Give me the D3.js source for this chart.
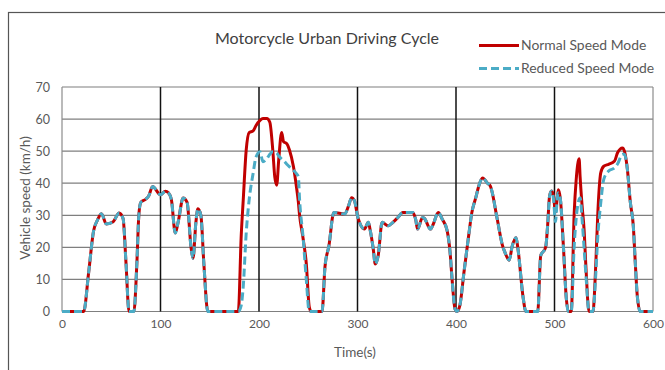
<!DOCTYPE html>
<html>
<head>
<meta charset="utf-8">
<script src="https://cdn.jsdelivr.net/npm/d3@7"></script>
<style>
  body { margin: 0; background: #fff; }
  text { font-family: Lato, "Open Sans", sans-serif; }
</style>
</head>
<body>
<div id="chart"></div>
<script>
// Time samples (s) and speeds (km/h)
const times = [0, 22, 27, 32, 36, 40, 45, 52, 58, 62, 65, 68, 73, 76, 78, 80, 85, 88, 92, 100,
  105, 108, 111, 115, 118, 123, 127, 131, 133, 136, 138, 141, 144, 148, 179, 182, 184, 187, 190, 194,
  197, 201, 204, 208, 211, 214, 216, 218, 220, 223, 225, 228, 231, 235, 238, 240, 241, 245, 248, 251,
  253, 264, 267, 271, 276, 287, 291, 294, 297, 300, 302, 307, 311, 313, 316, 318, 321, 325, 331, 336,
  341, 346, 356, 359, 361, 366, 368, 374, 377, 382, 386, 391, 394, 396, 399, 401, 404, 408, 413, 416,
  420, 423, 427, 432, 435, 442, 447, 450, 454, 457, 461, 463, 468, 471, 483, 486, 491, 493, 495, 497,
  499, 501, 503, 504, 506, 509, 512, 514, 517, 520, 522, 525, 526, 528, 530, 532, 535, 539, 542, 544,
  547, 550, 555, 561, 564, 569, 571, 574, 577, 580, 582, 584, 587, 600];

const normalSpeed = [0, 0, 12, 25, 28.5, 30.5, 27.3, 28, 30.7, 29, 15, 0, 0, 15, 30, 34, 35, 36, 39, 36.4,
  37.5, 37, 35, 24.5, 28, 35.4, 34, 20, 16.6, 28, 32, 30, 15, 0, 0, 24, 34.8, 50.3, 55.8, 56.3,
  58, 59.6, 60.2, 60.2, 59, 50.3, 42, 39.4, 47.2, 55.8, 52.9, 52.4, 50.3, 45.1, 38.9, 34, 30.6, 22.3, 15, 1.5,
  0, 0, 14, 20.5, 30.9, 30.4, 33, 35.5, 34.5, 29.8, 27.8, 25.7, 27.8, 25.2, 19.5, 14.8, 17.4, 27.8, 26.7, 27.8,
  29.3, 30.9, 30.9, 28.8, 25.7, 29.3, 29, 25.7, 27.3, 30.9, 28.8, 25.2, 18.4, 10.2, 0.8, 0, 2, 12, 24, 30.7,
  35.4, 39, 41.6, 40, 39, 28.6, 20.8, 18.2, 16, 20.3, 23, 19.3, 4.7, 0, 0, 17.4, 20, 26.7, 36, 37.6,
  36, 31, 36, 38, 35, 20.5, 4, 0, 0, 30.8, 41, 47.6, 42, 33, 25.7, 13.3, 0, 0, 15.3, 30.8,
  43.3, 45.3, 45.9, 46.9, 49.5, 51, 50, 44.3, 34, 26.7, 15.3, 5, 0, 0];

const reducedSpeed = [0, 0, 12, 25, 28.5, 30.5, 27.3, 28, 30.7, 29, 15, 0, 0, 15, 30, 34, 35, 36, 39, 36.4,
  37.5, 37, 35, 24.5, 28, 35.4, 34, 20, 16.6, 28, 32, 30, 15, 0, 0, 2, 7.8, 24.4, 34.8, 43,
  48.2, 49.8, 46.7, 47.7, 49, 49.8, 49.7, 49.5, 48.5, 47.5, 47, 46, 45.1, 44, 43, 42, 36, 22.3, 10, 0,
  0, 0, 14, 20.5, 30.9, 30.4, 33, 35.5, 34.5, 29.8, 27.8, 25.7, 27.8, 25.2, 19.5, 14.8, 17.4, 27.8, 26.7, 27.8,
  29.3, 30.9, 30.9, 28.8, 25.7, 29.3, 29, 25.7, 27.3, 30.9, 28.8, 25.2, 18.4, 10.2, 0.8, 0, 2, 12, 24, 30.7,
  35.4, 39, 41.6, 40, 39, 28.6, 20.8, 18.2, 16, 20.3, 23, 19.3, 4.7, 0, 0, 17.4, 20, 26.7, 36, 37.6,
  35, 28, 36, 37, 35, 20.5, 4, 0, 0, 20.5, 29, 35, 35.5, 28.8, 20, 11, 0, 0, 12.2, 23.6,
  34, 41.2, 43.8, 44.8, 46, 49, 49, 44.3, 34, 26.7, 15.3, 5, 0, 0];

const xTicks = [0, 100, 200, 300, 400, 500, 600];
const yTicks = [0, 10, 20, 30, 40, 50, 60, 70];
const seriesNames = ["Normal Speed Mode", "Reduced Speed Mode"];

const width = 665;
const height = 370;
const margin = {top: 87, right: 12, bottom: 58, left: 62};

const svg = d3.select("#chart")
  .append("svg")
  .attr("width", width)
  .attr("height", height);

// Chart frame
svg.append("rect")
  .attr("x", 8.5)
  .attr("y", 12.5)
  .attr("width", 700)
  .attr("height", 400)
  .attr("fill", "none")
  .attr("stroke", "#555")
  .attr("stroke-width", 1.2);

const xScale = d3.scaleLinear()
  .domain([0, 600])
  .range([margin.left, width - margin.right]);

const yScale = d3.scaleLinear()
  .domain([0, 70])
  .range([height - margin.bottom - 0.5, margin.top]);

// Horizontal gridlines
svg.append("g")
  .selectAll("line")
  .data(yTicks)
  .join("line")
  .attr("x1", xScale(0))
  .attr("x2", xScale(600))
  .attr("y1", d => yScale(d))
  .attr("y2", d => yScale(d))
  .attr("stroke", "#7f7f7f")
  .attr("stroke-width", 1.2);

// Vertical gridlines (inner ones black)
svg.append("g")
  .selectAll("line")
  .data(xTicks)
  .join("line")
  .attr("x1", d => xScale(d))
  .attr("x2", d => xScale(d))
  .attr("y1", yScale(0))
  .attr("y2", yScale(70))
  .attr("stroke", d => (d === 0 || d === 600) ? "#8c8c8c" : "#111")
  .attr("stroke-width", d => (d === 0 || d === 600) ? 1.2 : 1.5);

// X axis labels
const xAxis = svg.append("g")
  .attr("transform", `translate(0,${yScale(0)})`)
  .call(d3.axisBottom(xScale).tickValues(xTicks).tickSize(0).tickPadding(8));
xAxis.select(".domain").remove();
xAxis.selectAll("text")
  .style("font-family", "Lato, sans-serif")
  .style("font-size", "12px")
  .attr("fill", "#595959");

// Y axis labels
const yAxis = svg.append("g")
  .attr("transform", `translate(${margin.left},0)`)
  .call(d3.axisLeft(yScale).tickValues(yTicks).tickSize(0).tickPadding(12));
yAxis.select(".domain").remove();
yAxis.selectAll("text")
  .style("font-family", "Lato, sans-serif")
  .style("font-size", "12.5px")
  .attr("fill", "#595959");

// Axis titles
svg.append("text")
  .attr("transform", "rotate(-90)")
  .attr("x", -198)
  .attr("y", 30)
  .attr("text-anchor", "middle")
  .attr("fill", "#595959")
  .style("font-size", "13.5px")
  .text("Vehicle speed (km/h)");

svg.append("text")
  .attr("x", 355)
  .attr("y", 357)
  .attr("text-anchor", "middle")
  .attr("fill", "#595959")
  .style("font-size", "13.5px")
  .text("Time(s)");

// Title
svg.append("text")
  .attr("x", 327)
  .attr("y", 44)
  .attr("text-anchor", "middle")
  .attr("fill", "#404040")
  .style("font-size", "16px")
  .text("Motorcycle Urban Driving Cycle");

const line = d3.line()
  .x(d => xScale(d[0]))
  .y(d => yScale(d[1]))
  .curve(d3.curveMonotoneX);

const normalData = times.map((t, i) => [t, normalSpeed[i]]);
const reducedData = times.map((t, i) => [t, reducedSpeed[i]]);

svg.append("path")
  .datum(normalData)
  .attr("fill", "none")
  .attr("stroke", "#c00000")
  .attr("stroke-width", 3)
  .attr("d", line);

svg.append("path")
  .datum(reducedData)
  .attr("fill", "none")
  .attr("stroke", "#4bacc6")
  .attr("stroke-width", 3)
  .attr("stroke-dasharray", "8,4")
  .attr("d", line);

// Legend
const legend = svg.append("g");
const legendStyles = [
  {color: "#c00000", dash: null, y: 45.5},
  {color: "#4bacc6", dash: "8,4", y: 68.5}
];
seriesNames.forEach((name, i) => {
  const s = legendStyles[i];
  legend.append("line")
    .attr("x1", 479)
    .attr("x2", 519)
    .attr("y1", s.y)
    .attr("y2", s.y)
    .attr("stroke", s.color)
    .attr("stroke-width", 3)
    .attr("stroke-dasharray", s.dash);
  legend.append("text")
    .attr("x", 521)
    .attr("y", s.y + 4.5)
    .attr("fill", "#595959")
    .style("font-size", "13.9px")
    .text(name);
});
</script>
</body>
</html>
